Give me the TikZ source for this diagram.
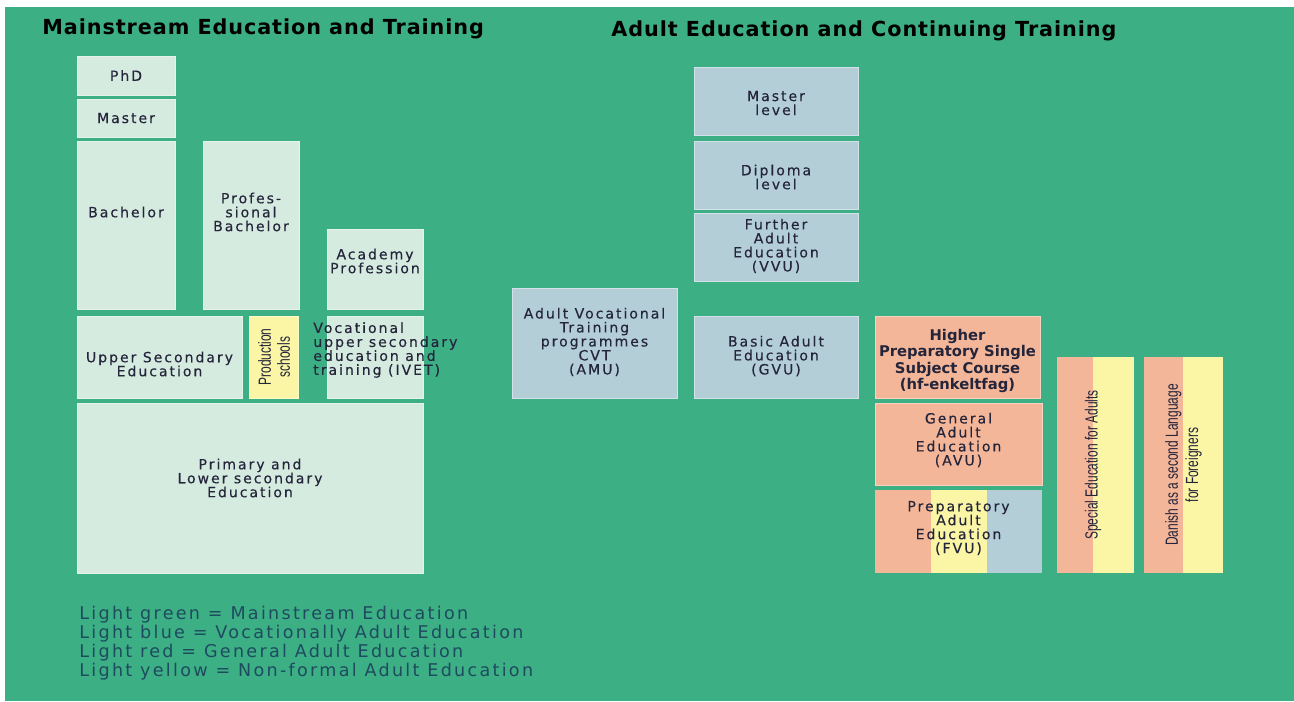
\documentclass[tikz,border=0pt]{standalone}
\usepackage{fontspec}
\usepackage{tikz}
\usetikzlibrary{math}
\usetikzlibrary{positioning}

\newfontfamily\boxfont[LetterSpace=14, FakeBold=0.3]{DejaVu Sans}
\newfontfamily\strongfont{DejaVu Sans Bold}
\newfontfamily\headfont[LetterSpace=4.5]{DejaVu Sans}
\newfontfamily\keyfont[LetterSpace=13]{DejaVu Sans}
\newfontfamily\narrowfont{Liberation Sans}

\definecolor{bggreen}{RGB}{61,175,133}
\definecolor{lgreen}{RGB}{213,235,224}
\definecolor{lblue}{RGB}{180,206,216}
\definecolor{lred}{RGB}{244,182,152}
\definecolor{lyellow}{RGB}{250,246,165}
\definecolor{boxtext}{RGB}{36,36,58}
\definecolor{keytext}{RGB}{30,75,95}

\tikzstyle{box} = [rectangle, inner sep=0pt, outer sep=0pt, line width=0.5pt]
\tikzstyle{mainbox} = [box, fill=lgreen, draw=lgreen!60!white]
\tikzstyle{vocbox} = [box, fill=lblue, draw=lblue!60!white]
\tikzstyle{genbox} = [box, fill=lred, draw=lred!60!white]
\tikzstyle{nfbox} = [box, fill=lyellow, draw=lyellow!60!white]
\tikzstyle{stripe} = [box, draw=none]
\tikzstyle{txt} = [align=center, inner sep=0pt, text=boxtext, font=\boxfont\fontsize{8}{7.95}\selectfont]
\tikzstyle{vtxt} = [align=center, inner sep=0pt, text=boxtext, rotate=90, font=\narrowfont\fontsize{10}{11.5}\selectfont]
\tikzstyle{head} = [anchor=west, inner sep=0pt, text=black, font=\headfont\bfseries\fontsize{11.8}{13}\selectfont]

\newcommand{\thin}[1]{\scalebox{0.68}[1]{#1}}

\begin{document}
\begin{tikzpicture}[x=0.02cm, y=-0.02cm, dim/.style 2 args={minimum width=#1*0.02cm, minimum height=#2*0.02cm}]

  \useasboundingbox (0,0) rectangle (1294,701);
  \fill[white] (0,0) rectangle (1294,701);
  \fill[bggreen] (5,7) rectangle (1294,701);

  % headings
  \node[head] (mainhead) at (42,29) {Mainstream Education and Training};
  \node[head] (adulthead) at (611,31) {Adult Education and Continuing Training};

  % mainstream column
  \node[mainbox, dim={98}{39}] (phd) at (126,75.5) {};
  \node[txt] at (phd) {PhD};
  \node[mainbox, dim={98}{38}] (master) at (126,118) {};
  \node[txt] at (master) {Master};
  \node[mainbox, dim={98}{168}] (bach) at (126,225) {};
  \node[txt] at (126,212) {Bachelor};
  \node[mainbox, dim={96}{168}] (profbach) at (251,225) {};
  \node[txt] at (251,212) {Profes-\\sional\\Bachelor};
  \node[mainbox, dim={96}{80}] (academy) at (375,269) {};
  \node[txt] at (375,261) {Academy\\Profession};

  \node[mainbox, dim={165}{82}] (upper) at (159.5,357) {};
  \node[txt] at (159.5,364) {Upper Secondary\\Education};
  \node[nfbox, dim={49}{82}] (prod) at (273.5,357) {};
  \node[vtxt, font=\narrowfont\fontsize{10}{10.8}\selectfont] at (274,357) {\thin{Production}\\\thin{schools}};
  \node[mainbox, dim={96}{82}] (ivet) at (375,357) {};
  \node[txt, align=left, anchor=west] at (313,350) {Vocational\\upper secondary\\education and\\training (IVET)};

  \node[mainbox, dim={346}{170}] (primary) at (250,488) {};
  \node[txt] at (250,478) {Primary and\\Lower secondary\\Education};

  % adult column
  \node[vocbox, dim={164}{68}] (mlevel) at (776,101) {};
  \node[txt] at (776,103) {Master\\level};
  \node[vocbox, dim={164}{68}] (dlevel) at (776,175) {};
  \node[txt] at (776,177) {Diploma\\level};
  \node[vocbox, dim={164}{68}] (vvu) at (776,247) {};
  \node[txt] at (776,246) {Further\\Adult\\Education\\(VVU)};
  \node[vocbox, dim={165}{110}] (amu) at (594.5,343) {};
  \node[txt] at (594.5,342) {Adult Vocational\\Training\\programmes\\CVT\\(AMU)};
  \node[vocbox, dim={164}{82}] (gvu) at (776,357) {};
  \node[txt] at (776,356) {Basic Adult\\Education\\(GVU)};

  \node[genbox, dim={165}{82}] (hf) at (957.5,357) {};
  \node[txt, font=\strongfont\fontsize{8.4}{7.95}\selectfont] at (957.5,361) {Higher\\Preparatory Single\\Subject Course\\(hf-enkeltfag)};
  \node[genbox, dim={167}{82}] (avu) at (958.5,444) {};
  \node[txt] at (958.5,440) {General\\Adult\\Education\\(AVU)};

  % three stripes
  \node[stripe, fill=lred, dim={56}{83}] (fvua) at (903,531.5) {};
  \node[stripe, fill=lyellow, dim={56}{83}] (fvub) at (959,531.5) {};
  \node[stripe, fill=lblue, dim={55}{83}] (fvuc) at (1014.5,531.5) {};
  \node[txt] at (958.5,528) {Preparatory\\Adult\\Education\\(FVU)};

  % two stripes, vertical text
  \node[stripe, fill=lred, dim={36}{216}] (speca) at (1075,465) {};
  \node[stripe, fill=lyellow, dim={41}{216}] (specb) at (1113.5,465) {};
  \node[vtxt] at (1093,465) {\thin{Special Education for Adults}};
  \node[stripe, fill=lred, dim={39}{216}] (dana) at (1163.5,465) {};
  \node[stripe, fill=lyellow, dim={40}{216}] (danb) at (1203,465) {};
  \node[vtxt] at (1183.5,465) {\thin{Danish as a second Language}\\\thin{for Foreigners}};

  % key
  \node[anchor=north west, align=left, inner sep=0pt, text=keytext, font=\keyfont\fontsize{10}{10.8}\selectfont] (key) at (79,606) {Light green = Mainstream Education\\Light blue = Vocationally Adult Education\\Light red = General Adult Education\\Light yellow = Non-formal Adult Education};

\end{tikzpicture}
\end{document}
